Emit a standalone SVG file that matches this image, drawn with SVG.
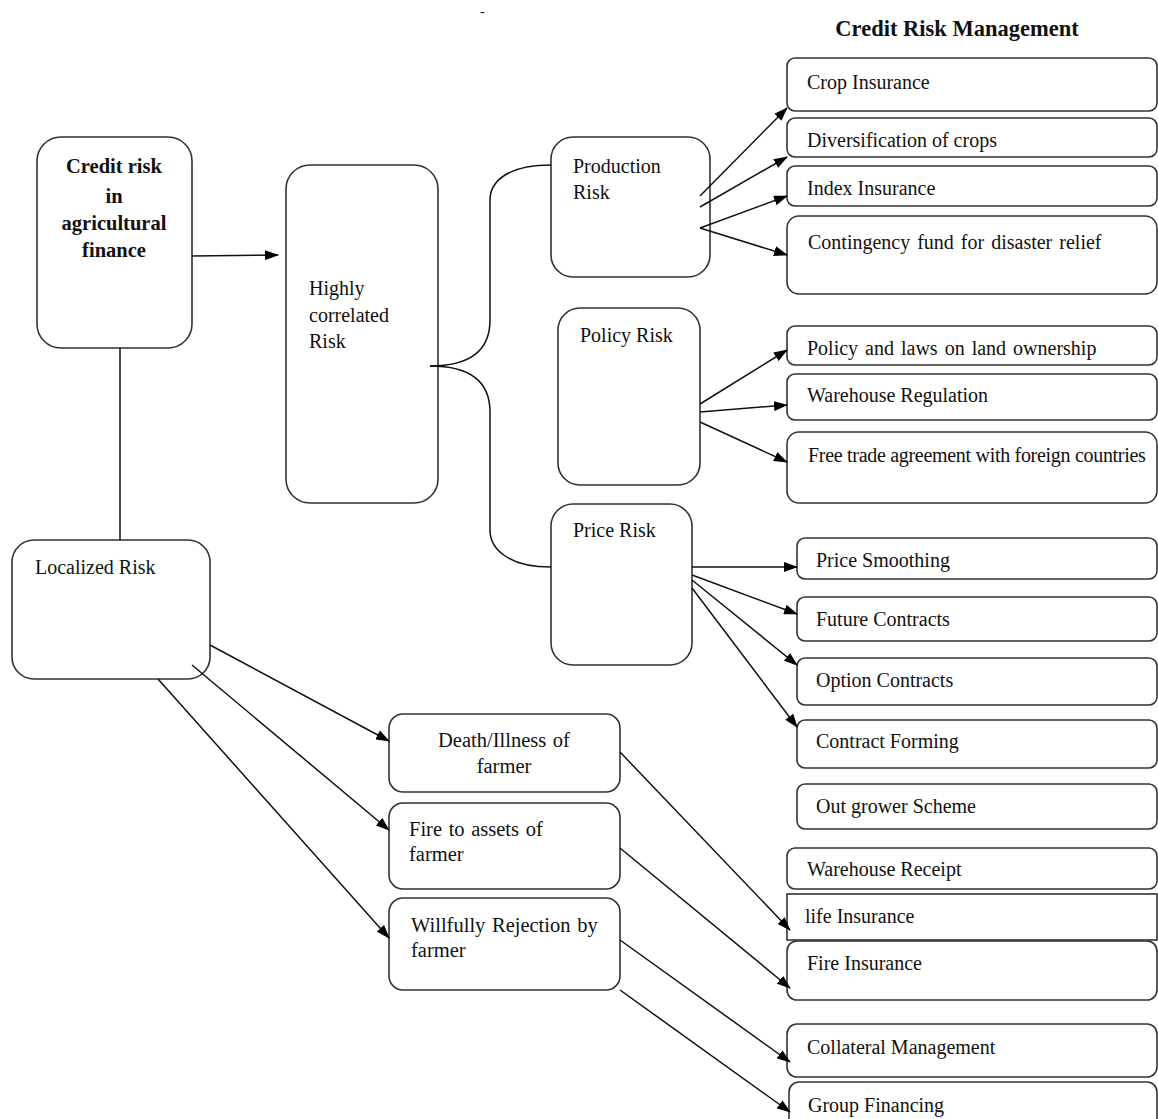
<svg xmlns="http://www.w3.org/2000/svg" width="1158" height="1119" viewBox="0 0 1158 1119">
<style>
.b{fill:#fff;stroke:#333;stroke-width:1.6}
.t{font-family:"Liberation Serif","Times New Roman",serif;font-size:20px;fill:#111}
.s{font-size:20px}
.m{font-size:20.5px;word-spacing:1.5px}
.bd{font-weight:bold;font-size:20.5px}
.c{fill:none;stroke:#111;stroke-width:1.5}
</style>
<defs>
<marker id="ah" viewBox="0 0 14 10" refX="13" refY="5" markerWidth="14" markerHeight="10" markerUnits="userSpaceOnUse" orient="auto">
<path d="M0,0 L14,5 L0,10 z" fill="#000"/>
</marker>
</defs>
<rect width="1158" height="1119" fill="#fff"/>
<text class="t" x="480" y="16" style="font-size:14px">-</text>
<text class="t" x="957" y="36" text-anchor="middle" style="font-weight:bold;font-size:22.5px">Credit Risk Management</text>

<g id="n-credit"><rect class="b" x="37" y="137" width="155" height="211" rx="24"/>
<text class="t bd" text-anchor="middle"><tspan x="114" y="173">Credit risk</tspan><tspan x="114" y="203">in</tspan><tspan x="114" y="230">agricultural</tspan><tspan x="114" y="257">finance</tspan></text></g>
<g id="n-highly"><rect class="b" x="286" y="165" width="152" height="338" rx="24"/>
<text class="t"><tspan x="309" y="295">Highly</tspan><tspan x="309" y="322">correlated</tspan><tspan x="309" y="348">Risk</tspan></text></g>
<g id="n-production"><rect class="b" x="551" y="137" width="159" height="140" rx="22"/>
<text class="t"><tspan x="573" y="173">Production</tspan><tspan x="573" y="199">Risk</tspan></text></g>
<g id="n-policy"><rect class="b" x="558" y="308" width="142" height="177" rx="22"/>
<text class="t" x="580" y="342">Policy Risk</text></g>
<g id="n-price"><rect class="b" x="551" y="504" width="141" height="161" rx="22"/>
<text class="t" x="573" y="537">Price Risk</text></g>
<g id="n-localized"><rect class="b" x="12" y="540" width="198" height="139" rx="22"/>
<text class="t" x="35" y="574">Localized Risk</text></g>
<g id="n-death"><rect class="b" x="389" y="714" width="231" height="78" rx="14"/>
<text class="t m" text-anchor="middle"><tspan x="504" y="747">Death/Illness of</tspan><tspan x="504" y="773">farmer</tspan></text></g>
<g id="n-fire"><rect class="b" x="389" y="803" width="231" height="86" rx="14"/>
<text class="t m"><tspan x="409" y="836">Fire to assets of</tspan><tspan x="409" y="861">farmer</tspan></text></g>
<g id="n-willful"><rect class="b" x="389" y="898" width="231" height="92" rx="14"/>
<text class="t m"><tspan x="411" y="932">Willfully Rejection by</tspan><tspan x="411" y="957">farmer</tspan></text></g>

<g id="n-crop"><rect class="b" x="787" y="58" width="370" height="53" rx="8"/><text class="t s" x="807" y="89">Crop Insurance</text></g>
<g id="n-divers"><rect class="b" x="787" y="118" width="370" height="39" rx="8"/><text class="t s" x="807" y="147">Diversification of crops</text></g>
<g id="n-index"><rect class="b" x="787" y="166" width="370" height="40" rx="8"/><text class="t s" x="807" y="195">Index Insurance</text></g>
<g id="n-contingency"><rect class="b" x="787" y="216" width="370" height="78" rx="12"/><text class="t s" x="808" y="249" word-spacing="2">Contingency fund for disaster relief</text></g>
<g id="n-policylaws"><rect class="b" x="787" y="326" width="370" height="39" rx="8"/><text class="t s" x="807" y="355" word-spacing="2">Policy and laws on land ownership</text></g>
<g id="n-warereg"><rect class="b" x="787" y="374" width="370" height="46" rx="8"/><text class="t s" x="807" y="402">Warehouse Regulation</text></g>
<g id="n-freetrade"><rect class="b" x="787" y="432" width="370" height="71" rx="12"/><text class="t" x="808" y="462" style="font-size:20px;letter-spacing:-0.3px">Free trade agreement with foreign countries</text></g>
<g id="n-pricesmooth"><rect class="b" x="797" y="538" width="360" height="41" rx="8"/><text class="t s" x="816" y="567">Price Smoothing</text></g>
<g id="n-future"><rect class="b" x="797" y="597" width="360" height="44" rx="8"/><text class="t s" x="816" y="626">Future Contracts</text></g>
<g id="n-option"><rect class="b" x="797" y="658" width="360" height="47" rx="8"/><text class="t s" x="816" y="687">Option Contracts</text></g>
<g id="n-contract"><rect class="b" x="797" y="720" width="360" height="48" rx="8"/><text class="t s" x="816" y="748">Contract Forming</text></g>
<g id="n-outgrower"><rect class="b" x="797" y="784" width="360" height="45" rx="8"/><text class="t s" x="816" y="813">Out grower Scheme</text></g>
<g id="n-warereceipt"><rect class="b" x="787" y="848" width="370" height="41" rx="8"/><text class="t s" x="807" y="876">Warehouse Receipt</text></g>
<g id="n-life"><rect class="b" x="787" y="894" width="370" height="46"/><text class="t s" x="805" y="923">life Insurance</text></g>
<g id="n-fireins"><rect class="b" x="787" y="941" width="370" height="59" rx="10"/><text class="t s" x="807" y="970">Fire Insurance</text></g>
<g id="n-collateral"><rect class="b" x="787" y="1024" width="370" height="53" rx="10"/><text class="t s" x="807" y="1054">Collateral Management</text></g>
<g id="n-group"><rect class="b" x="789" y="1082" width="368" height="50" rx="10"/><text class="t s" x="808" y="1112">Group Financing</text></g>

<g id="connectors">
<line class="c" x1="192" y1="256" x2="278" y2="255" marker-end="url(#ah)"/>
<line class="c" x1="120" y1="348" x2="120" y2="540"/>
<path class="c" d="M430,366 C470,366 490,350 490,320 L490,200 C490,180 510,165 551,165"/>
<path class="c" d="M430,366 C470,366 490,382 490,412 L490,530 C490,550 510,567 551,567"/>
<line class="c" x1="700" y1="196" x2="787" y2="108" marker-end="url(#ah)"/>
<line class="c" x1="700" y1="207" x2="787" y2="157" marker-end="url(#ah)"/>
<line class="c" x1="700" y1="228" x2="787" y2="196" marker-end="url(#ah)"/>
<line class="c" x1="700" y1="228" x2="787" y2="255" marker-end="url(#ah)"/>
<line class="c" x1="700" y1="404" x2="787" y2="350" marker-end="url(#ah)"/>
<line class="c" x1="700" y1="412" x2="787" y2="405" marker-end="url(#ah)"/>
<line class="c" x1="700" y1="422" x2="787" y2="462" marker-end="url(#ah)"/>
<line class="c" x1="692" y1="567" x2="797" y2="567" marker-end="url(#ah)"/>
<line class="c" x1="692" y1="575" x2="797" y2="614" marker-end="url(#ah)"/>
<line class="c" x1="692" y1="580" x2="797" y2="665" marker-end="url(#ah)"/>
<line class="c" x1="692" y1="588" x2="797" y2="727" marker-end="url(#ah)"/>
<line class="c" x1="210" y1="645" x2="389" y2="741" marker-end="url(#ah)"/>
<line class="c" x1="192" y1="665" x2="389" y2="830" marker-end="url(#ah)"/>
<line class="c" x1="158" y1="679" x2="389" y2="938" marker-end="url(#ah)"/>
<line class="c" x1="620" y1="752" x2="790" y2="930" marker-end="url(#ah)"/>
<line class="c" x1="620" y1="848" x2="790" y2="988" marker-end="url(#ah)"/>
<line class="c" x1="620" y1="940" x2="790" y2="1062" marker-end="url(#ah)"/>
<line class="c" x1="620" y1="990" x2="790" y2="1112" marker-end="url(#ah)"/>
</g>
</svg>
